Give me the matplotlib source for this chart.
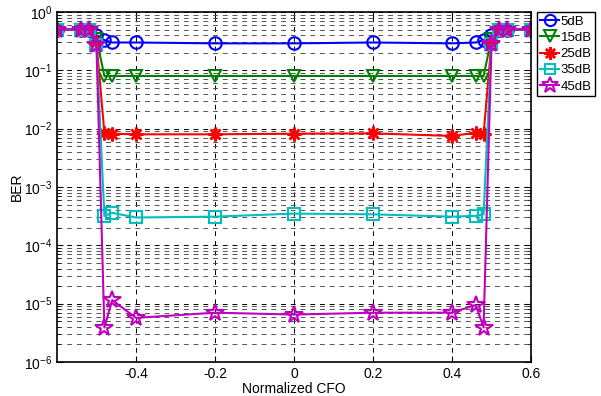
import numpy as np
import matplotlib
matplotlib.use("Agg")
from matplotlib import pyplot as plt

plt.rcParams['font.family'] = ['Liberation Sans', 'DejaVu Sans']

# normalized CFO sample points
cfo = [-0.6, -0.54, -0.52, -0.5, -0.48, -0.46, -0.4, -0.2, 0.0, 0.2, 0.4, 0.46, 0.48, 0.5, 0.52, 0.54, 0.6]

# BER per SNR
ber_5db  = [0.5, 0.5, 0.5, 0.4, 0.33, 0.3, 0.3, 0.29, 0.29, 0.3, 0.29, 0.3, 0.33, 0.4, 0.5, 0.5, 0.5]
ber_15db = [0.5, 0.5, 0.5, 0.35, 0.08, 0.08, 0.08, 0.08, 0.08, 0.08, 0.08, 0.08, 0.08, 0.35, 0.5, 0.5, 0.5]
ber_25db = [0.5, 0.5, 0.5, 0.3, 8.5e-3, 8.2e-3, 8e-3, 8e-3, 8.2e-3, 8.3e-3, 7.5e-3, 8.5e-3, 8e-3, 0.3, 0.5, 0.5, 0.5]
ber_35db = [0.5, 0.5, 0.5, 0.27, 3.2e-4, 3.6e-4, 3e-4, 3.1e-4, 3.5e-4, 3.4e-4, 3.1e-4, 3.2e-4, 3.4e-4, 0.28, 0.5, 0.5, 0.5]
ber_45db = [0.5, 0.5, 0.5, 0.27, 3.9e-6, 1.15e-5, 5.7e-6, 7e-6, 6.5e-6, 7e-6, 7e-6, 9.5e-6, 3.9e-6, 0.28, 0.5, 0.5, 0.5]

labels = ["5dB", "15dB", "25dB", "35dB", "45dB"]
xticks = [-0.4, -0.2, 0, 0.2, 0.4, 0.6]

fig = plt.figure(figsize=(6.01, 3.96), dpi=100)
ax = fig.add_axes([0.0948, 0.0859, 0.7887, 0.8838])

ax.semilogy(cfo, ber_5db, '-', color=(0, 0, 1), marker='o', ms=9, mfc='none', mew=1.5, lw=1.5, label=labels[0])
ax.semilogy(cfo, ber_15db, '-', color=(0, 0.5, 0), marker='v', ms=9, mfc='none', mew=1.5, lw=1.5, label=labels[1])
ax.semilogy(cfo, ber_25db, '-', color=(1, 0, 0), marker=(8, 2, 0), ms=10, mew=1.8, lw=1.5, label=labels[2])
ax.semilogy(cfo, ber_35db, '-', color=(0, 0.75, 0.75), marker='s', ms=8, mfc='none', mew=1.5, lw=1.5, label=labels[3])
ax.semilogy(cfo, ber_45db, '-', color=(0.75, 0, 0.75), marker='*', ms=13, mfc='none', mew=1.5, lw=1.5, label=labels[4])

ax.set_xlim(-0.6, 0.6)
ax.set_ylim(1e-6, 1)
ax.set_xticks(xticks)
ax.set_xticklabels(["-0.4", "-0.2", "0", "0.2", "0.4", "0.6"])
ax.set_yticks([1e-6, 1e-5, 1e-4, 1e-3, 1e-2, 1e-1, 1])
ax.yaxis.set_minor_locator(matplotlib.ticker.LogLocator(base=10, subs=np.arange(2, 10)))
ax.yaxis.set_minor_formatter(matplotlib.ticker.NullFormatter())

ax.grid(True, which='major', axis='both', color='k', ls=(0, (5, 5)), lw=0.7)
ax.grid(True, which='minor', axis='y', color='#555555', ls=(0, (5, 5)), lw=0.7)
ax.tick_params(which='both', direction='in', top=True, right=True, labelsize=10)
ax.tick_params(which='major', length=4)
ax.tick_params(which='minor', length=2)
for s in ax.spines.values():
    s.set_linewidth(1.2)

ax.set_xlabel("Normalized CFO", fontsize=10, labelpad=1)
ax.set_ylabel("BER", fontsize=10, labelpad=0)

leg = ax.legend(loc='upper left', bbox_to_anchor=(0.8935, 0.969), bbox_transform=fig.transFigure,
                fontsize=9.5, frameon=True, fancybox=False, edgecolor='k', framealpha=1,
                handlelength=1.4, handletextpad=0.15, labelspacing=0.3, borderpad=0.25, borderaxespad=0,
                markerscale=0.9)
leg.get_frame().set_linewidth(1.0)

fig.savefig("out.png", dpi=100)
